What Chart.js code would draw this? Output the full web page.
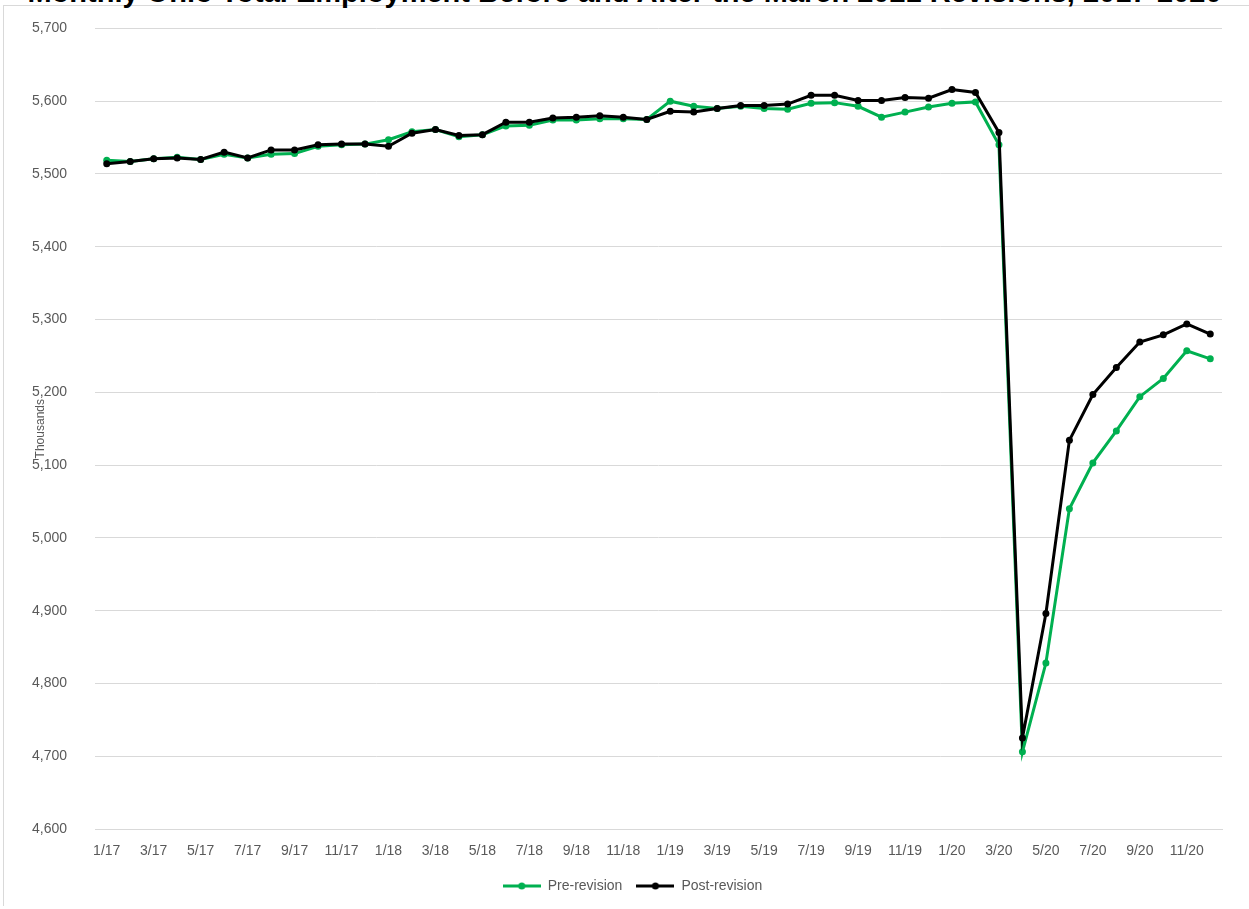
<!DOCTYPE html>
<html>
<head>
<meta charset="utf-8">
<script src="https://cdn.jsdelivr.net/npm/chart.js@4.4.0/dist/chart.umd.min.js"></script>
<style>
  html, body { margin: 0; padding: 0; background: #fff; overflow: hidden; }
  #wrap { position: relative; width: 1249px; height: 909px; overflow: hidden; }
  #frame { position: absolute; left: 3px; top: 5px; right: -5px; bottom: 3px; border-left: 1px solid #d9d9d9; border-top: 1px solid #d9d9d9; }
  #title { position: absolute; left: 0; width: 1249px; top: -24px; text-align: center; font: bold 29px "Liberation Sans", Arial, sans-serif; color: #000; white-space: nowrap; }
  canvas { position: absolute; left: 0; top: -8px; }
</style>
</head>
<body>
<div id="wrap">
  <div id="frame"></div>
  <div id="title">Monthly Ohio Total Employment Before and After the March 2021 Revisions, 2017-2020</div>
  <canvas id="chart" width="1249" height="917"></canvas>
</div>
<script>
// months 1/17 .. 12/20
const months = [
  '1/17','2/17','3/17','4/17','5/17','6/17','7/17','8/17','9/17','10/17','11/17','12/17',
  '1/18','2/18','3/18','4/18','5/18','6/18','7/18','8/18','9/18','10/18','11/18','12/18',
  '1/19','2/19','3/19','4/19','5/19','6/19','7/19','8/19','9/19','10/19','11/19','12/19',
  '1/20','2/20','3/20','4/20','5/20','6/20','7/20','8/20','9/20','10/20','11/20','12/20'
];

// thousands of jobs
const preRevision = [
  5519, 5517, 5521, 5523, 5520, 5527, 5522, 5527, 5528, 5538, 5540, 5541,
  5547, 5558, 5561, 5551, 5554, 5566, 5567, 5574, 5574, 5576, 5576, 5575,
  5600, 5593, 5590, 5593, 5590, 5589, 5597, 5598, 5593, 5578, 5585, 5592,
  5597, 5599, 5540, 4706, 4828, 5040, 5103, 5147, 5194, 5219, 5257, 5246
];

const postRevision = [
  5514, 5517, 5521, 5522, 5520, 5530, 5522, 5533, 5533, 5540, 5541, 5541,
  5538, 5556, 5561, 5553, 5554, 5571, 5571, 5577, 5578, 5580, 5578, 5575,
  5586, 5585, 5590, 5594, 5594, 5596, 5608, 5608, 5601, 5601, 5605, 5604,
  5616, 5612, 5557, 4725, 4896, 5134, 5197, 5234, 5269, 5279, 5294, 5280
];

const GREEN = '#00b050';
const BLACK = '#000000';
const TEXT = '#595959';
const FONT = '"Liberation Sans", Arial, sans-serif';

// excel style legend key: short line with a dot in the middle
function legendKey(color) {
  const c = document.createElement('canvas');
  c.width = 38; c.height = 10;
  const g = c.getContext('2d');
  g.strokeStyle = color;
  g.lineWidth = 3;
  g.beginPath(); g.moveTo(0, 5); g.lineTo(38, 5); g.stroke();
  g.fillStyle = color;
  g.beginPath(); g.arc(19, 5, 3.5, 0, Math.PI * 2); g.fill();
  return c;
}

// nudge the legend a bit right of the canvas centre, like the original
const legendShift = {
  id: 'legendShift',
  afterLayout(chart) {
    const lg = chart.legend;
    const dx = (chart.chartArea.left + chart.chartArea.right) / 2 - (lg.left + lg.right) / 2 - 26;
    lg.left += dx;
    lg.right += dx;
  }
};

const ctx = document.getElementById('chart').getContext('2d');
new Chart(ctx, {
  type: 'line',
  data: {
    labels: months,
    datasets: [
      {
        label: 'Pre-revision',
        data: preRevision,
        borderColor: GREEN,
        backgroundColor: GREEN,
        borderWidth: 3,
        pointRadius: 3.5,
        pointBorderWidth: 0,
        tension: 0,
        order: 1
      },
      {
        label: 'Post-revision',
        data: postRevision,
        borderColor: BLACK,
        backgroundColor: BLACK,
        borderWidth: 3,
        pointRadius: 3.5,
        pointBorderWidth: 0,
        tension: 0,
        order: 0
      }
    ]
  },
  plugins: [legendShift],
  options: {
    responsive: false,
    animation: false,
    layout: { padding: { left: 0, right: 27, top: 18, bottom: 6 } },
    plugins: {
      tooltip: { enabled: false },
      legend: {
        position: 'bottom',
        labels: {
          color: TEXT,
          font: { family: FONT, size: 14 },
          usePointStyle: true,
          pointStyleWidth: 38,
          boxHeight: 10,
          padding: 14,
          sort: (a, b) => a.datasetIndex - b.datasetIndex,
          generateLabels(chart) {
            return chart.data.datasets.map((ds, i) => ({
              text: ds.label,
              fontColor: TEXT,
              pointStyle: legendKey(ds.borderColor),
              strokeStyle: ds.borderColor,
              fillStyle: ds.borderColor,
              lineWidth: 0,
              hidden: false,
              datasetIndex: i
            }));
          }
        }
      }
    },
    scales: {
      x: {
        offset: true,
        grid: { display: false, drawTicks: false },
        border: { color: '#d9d9d9', width: 1 },
        ticks: {
          color: TEXT,
          font: { family: FONT, size: 14 },
          autoSkip: false,
          maxRotation: 0,
          padding: 14,
          callback(v, i) { return i % 2 === 0 ? months[i] : ''; }
        },
        afterFit(scale) { scale.height = 36; }
      },
      y: {
        min: 4600,
        max: 5700,
        grid: { color: '#d9d9d9', drawTicks: false },
        border: { display: false },
        ticks: {
          stepSize: 100,
          color: TEXT,
          font: { family: FONT, size: 14 },
          padding: 28,
          callback(v) { return v.toLocaleString('en-US'); }
        },
        title: {
          display: true,
          text: 'Thousands',
          color: TEXT,
          font: { family: FONT, size: 12 },
          padding: { top: 33, bottom: 0 }
        },
        afterFit(scale) { scale.width = 95; }
      }
    }
  }
});
</script>
</body>
</html>
